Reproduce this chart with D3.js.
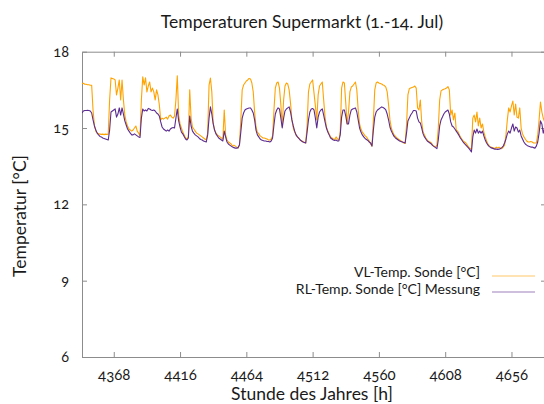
<!DOCTYPE html>
<html><head><meta charset="utf-8">
<script src="https://cdn.jsdelivr.net/npm/d3@7/dist/d3.min.js"></script>
<style>
body{margin:0;background:#fff}
text{font-family:Lato,"Open Sans",sans-serif;fill:#1a1a1a;font-variant-numeric:oldstyle-nums}
</style>
</head><body><svg id="c" width="544" height="404"></svg>
<script>
const hourStart = 4345;
const vlTemp = [
16.75,16.76,16.72,16.72,16.70,16.70,16.68,16.68,15.70,15.10,14.88,14.80,14.77,14.76,14.75,14.76,14.74,14.76,14.75,14.76,16.10,16.97,16.95,16.93,
16.89,16.30,16.57,16.89,16.10,16.89,16.10,15.51,15.24,15.08,14.96,14.92,14.88,14.92,15.00,15.08,14.88,14.80,14.69,16.10,17.01,16.69,16.97,16.42,
16.65,16.81,16.42,16.57,16.42,16.10,16.50,16.30,15.91,15.32,15.39,15.35,15.39,15.43,15.35,15.47,15.51,15.43,15.39,15.47,16.10,17.05,15.51,15.16,
15.00,14.84,14.73,14.61,14.57,14.65,16.50,15.39,15.04,14.96,14.88,14.80,14.77,14.73,14.69,14.65,14.61,14.57,14.53,14.80,16.69,16.96,16.42,15.20,
14.92,14.80,14.73,14.69,14.65,14.61,14.57,15.71,14.73,14.53,14.45,14.41,14.37,14.29,14.33,14.29,14.25,14.21,14.33,15.32,16.50,16.69,16.77,16.85,
16.89,16.95,16.93,16.77,16.42,15.63,15.04,14.84,14.77,14.69,14.65,14.61,14.61,14.59,14.57,14.53,14.53,14.57,14.69,15.71,16.57,16.77,16.81,16.57,
15.91,15.08,16.10,16.65,16.77,16.73,16.50,15.98,15.32,15.00,14.84,14.73,14.65,14.61,14.53,14.49,14.47,14.43,14.41,15.12,16.42,16.73,16.81,16.89,
16.38,15.87,15.32,16.30,16.65,16.73,16.81,16.10,15.43,15.04,14.88,14.77,14.65,14.61,14.57,14.55,14.65,14.57,14.53,14.84,16.57,16.81,16.77,15.98,
15.16,15.63,16.42,16.61,16.65,16.73,16.81,16.50,15.71,15.16,14.96,14.84,14.77,14.69,14.65,14.57,14.49,14.37,14.29,15.32,16.50,16.77,16.81,16.77,
16.75,16.73,16.69,16.67,16.61,16.42,15.91,15.32,15.00,14.84,14.73,14.67,14.61,14.57,14.53,14.49,14.45,14.41,14.39,15.12,16.30,16.54,16.57,16.59,
16.61,16.65,16.57,15.79,15.71,16.10,15.24,14.84,14.73,14.61,14.53,14.47,14.45,14.41,14.33,14.29,14.25,14.33,15.00,16.10,16.46,16.50,16.52,16.54,
16.57,16.63,16.50,15.51,15.71,15.32,15.59,14.92,14.88,14.77,14.65,14.57,14.49,14.45,14.41,14.33,14.25,14.19,14.17,15.39,15.51,15.24,15.63,15.08,
15.39,15.00,15.16,14.84,14.65,14.49,14.37,14.29,14.25,14.23,14.21,14.19,14.25,14.21,14.25,14.21,14.19,14.25,14.33,14.73,15.32,15.79,15.63,15.87,
16.06,15.51,15.94,15.43,15.39,15.79,15.00,14.77,14.65,14.57,14.49,14.45,14.45,14.47,14.45,14.41,14.41,14.41,14.73,15.32,16.02,15.63,15.39,15.24
];
const rlTemp = [
15.59,15.67,15.69,15.69,15.70,15.69,15.67,15.59,15.32,15.08,14.92,14.80,14.73,14.67,14.65,14.61,14.59,14.57,14.55,14.53,14.92,15.63,15.67,15.71,
15.75,15.43,15.55,15.79,15.51,15.79,15.55,15.28,15.12,14.96,14.88,14.80,14.73,14.73,14.77,14.73,14.69,14.65,14.63,15.39,15.75,15.67,15.71,15.67,
15.77,15.75,15.71,15.69,15.71,15.67,15.59,15.55,15.47,15.24,15.04,14.96,14.92,14.88,14.92,14.88,14.96,15.00,15.02,15.00,15.39,15.75,15.28,15.04,
14.84,14.77,14.67,14.57,14.53,14.61,15.47,15.08,14.88,14.80,14.73,14.69,14.65,14.59,14.55,14.53,14.49,14.47,14.45,14.73,15.39,15.83,15.55,15.16,
14.92,14.77,14.69,14.61,14.57,14.53,14.49,14.88,14.65,14.45,14.37,14.33,14.29,14.25,14.23,14.21,14.21,14.23,14.33,14.84,15.39,15.59,15.71,15.75,
15.77,15.79,15.79,15.71,15.59,15.32,14.92,14.73,14.65,14.57,14.53,14.51,14.49,14.49,14.47,14.47,14.45,14.49,14.61,15.12,15.55,15.71,15.79,15.75,
15.39,15.00,15.39,15.67,15.75,15.79,15.83,15.63,15.32,15.08,14.88,14.73,14.65,14.59,14.53,14.49,14.45,14.43,14.41,14.84,15.32,15.63,15.75,15.77,
15.71,15.39,15.00,15.43,15.63,15.71,15.75,15.51,15.24,15.00,14.84,14.73,14.61,14.57,14.53,14.51,14.53,14.49,14.49,14.73,15.43,15.71,15.71,15.47,
15.16,15.16,15.51,15.71,15.75,15.77,15.79,15.63,15.32,15.00,14.84,14.73,14.65,14.59,14.55,14.51,14.45,14.41,14.29,14.92,15.43,15.63,15.71,15.75,
15.79,15.83,15.81,15.77,15.71,15.55,15.32,15.04,14.88,14.77,14.67,14.61,14.57,14.53,14.49,14.47,14.45,14.43,14.41,14.80,15.28,15.39,15.51,15.59,
15.69,15.69,15.67,15.39,15.24,15.20,15.00,14.77,14.65,14.57,14.49,14.45,14.41,14.37,14.31,14.27,14.23,14.19,14.53,15.08,15.32,15.43,15.55,15.63,
15.67,15.71,15.55,15.24,15.08,15.04,14.96,14.88,14.80,14.71,14.61,14.53,14.45,14.39,14.33,14.27,14.21,14.14,14.06,14.65,14.92,14.80,14.96,14.80,
14.88,14.80,14.88,14.69,14.53,14.41,14.33,14.27,14.23,14.21,14.19,14.17,14.17,14.16,14.17,14.19,14.23,14.29,14.41,14.57,14.77,14.88,14.80,15.00,
15.16,14.88,15.04,15.00,14.84,14.92,14.69,14.57,14.45,14.37,14.33,14.29,14.27,14.25,14.25,14.23,14.21,14.29,14.45,14.80,15.28,15.16,14.80,15.00
];
const xTicks = [4368,4416,4464,4512,4560,4608,4656];
const yTicks = [6,9,12,15,18];
const seriesNames = ["VL-Temp. Sonde [°C]","RL-Temp. Sonde [°C] Messung"];
const seriesColors = ["#FFA300","#5C2D91"];
const titleText = "Temperaturen Supermarkt (1.-14. Jul)";
const xTitle = "Stunde des Jahres [h]";
const yTitle = "Temperatur [°C]";

const svg = d3.select("#c");
const L=82, R=546, T=51.7, B=357;
const x = d3.scaleLinear().domain([4345,4681]).range([L,R]);
const y = d3.scaleLinear().domain([6,18]).range([B,T]);
const axisColor = "#8c8c8c";

svg.append("defs").append("clipPath").attr("id","clip")
  .append("rect").attr("x",L).attr("y",T).attr("width",R-L).attr("height",B-T);

function styleAxis(g){ g.select(".domain").attr("stroke",axisColor); g.selectAll(".tick line").attr("stroke",axisColor); }

const gb = svg.append("g").attr("transform",`translate(0,${B})`)
  .call(d3.axisBottom(x).tickValues(xTicks).tickSizeInner(-5).tickSizeOuter(0).tickPadding(12).tickFormat(d3.format("d")));
styleAxis(gb);
gb.selectAll("text").attr("font-size",15).attr("fill","#1a1a1a").style("font-family","Lato,'Open Sans',sans-serif");
const gt = svg.append("g").attr("transform",`translate(0,${T})`)
  .call(d3.axisTop(x).tickValues(xTicks).tickSizeInner(-5).tickSizeOuter(0).tickFormat(""));
styleAxis(gt);
const gl = svg.append("g").attr("transform",`translate(${L},0)`)
  .call(d3.axisLeft(y).tickValues(yTicks).tickSizeInner(-5).tickSizeOuter(0).tickPadding(13).tickFormat(d3.format("d")));
styleAxis(gl);
gl.selectAll("text").attr("font-size",14.5).attr("fill","#1a1a1a").style("font-family","Lato,'Open Sans',sans-serif");
const gr = svg.append("g").attr("transform",`translate(${R},0)`)
  .call(d3.axisRight(y).tickValues(yTicks).tickSizeInner(-5).tickSizeOuter(0).tickFormat(""));
styleAxis(gr);

const hours = vlTemp.map((d,i)=>hourStart+i);
const line = d3.line().x((d,i)=>x(hours[i])).y(d=>y(d));
const plot = svg.append("g").attr("clip-path","url(#clip)");
[vlTemp, rlTemp].forEach((s,k)=>{
  plot.append("path").datum(s).attr("d",line).attr("fill","none")
    .attr("stroke",seriesColors[k]).attr("stroke-width",1.1).attr("stroke-linejoin","round");
});

svg.append("text").attr("x",302).attr("y",28).attr("text-anchor","middle").attr("font-size",17.5).text(titleText);
svg.append("text").attr("x",312).attr("y",400).attr("text-anchor","middle").attr("font-size",17.5).text(xTitle);
svg.append("text").attr("transform","translate(26,216) rotate(-90)").attr("text-anchor","middle").attr("font-size",17.5).text(yTitle);

const legY = [276, 292];
const legBase = [277, 294];
seriesNames.forEach((n,k)=>{
  svg.append("text").attr("x",480).attr("y",legBase[k]).attr("text-anchor","end").attr("font-size",14).text(n);
  svg.append("line").attr("x1",492).attr("x2",535).attr("y1",legY[k]).attr("y2",legY[k])
    .attr("stroke",seriesColors[k]).attr("stroke-width",1).attr("opacity",0.6);
});
</script>
</body></html>
